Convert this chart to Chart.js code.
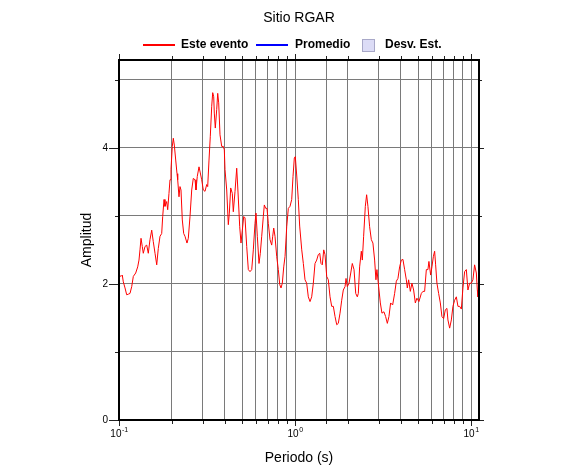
<!DOCTYPE html>
<html>
<head>
<meta charset="utf-8">
<title>Sitio RGAR</title>
<script src="https://cdn.jsdelivr.net/npm/chart.js@4.4.1/dist/chart.umd.min.js"></script>
<style>
  html, body { margin: 0; padding: 0; background: #fff; }
</style>
</head>
<body>
<canvas id="rgarChart" width="586" height="475"></canvas>
<script>
// Periodo (s) y amplitud
var periodos = [
  0.100, 0.1027, 0.1044, 0.1058, 0.1082, 0.1106, 0.1132, 0.1155, 0.1181, 0.1206,
  0.1244, 0.1277, 0.1299, 0.1316, 0.1334, 0.1356, 0.1374, 0.1405, 0.1437, 0.1467,
  0.1500, 0.1534, 0.1566, 0.1602, 0.1638, 0.1672, 0.1710, 0.1748, 0.1771, 0.1802,
  0.1825, 0.1866, 0.1891, 0.1923, 0.1949, 0.1974, 0.2008, 0.2035, 0.2062, 0.2100,
  0.2136, 0.2155, 0.2192, 0.2221, 0.2250, 0.2289, 0.2331, 0.2371, 0.2434, 0.2476,
  0.2532, 0.2589, 0.2643, 0.2703, 0.2738, 0.2785, 0.2848, 0.2897, 0.2950, 0.3013,
  0.3081, 0.3150, 0.3191, 0.3246, 0.3302, 0.3363, 0.3407, 0.3452, 0.3479, 0.3525,
  0.3590, 0.3638, 0.3685, 0.3749, 0.3833, 0.3914, 0.3966, 0.4002, 0.4092, 0.4179,
  0.4234, 0.4312, 0.4403, 0.4461, 0.4562, 0.4664, 0.4744, 0.4851, 0.4934, 0.5019,
  0.5112, 0.5199, 0.5316, 0.5429, 0.5551, 0.5676, 0.5796, 0.5926, 0.6004, 0.6107,
  0.6244, 0.6351, 0.6469, 0.6606, 0.6693, 0.6816, 0.6933, 0.7052, 0.7211, 0.7373,
  0.7470, 0.7569, 0.7698, 0.7872, 0.8038, 0.8187, 0.8327, 0.8470, 0.8627, 0.8775,
  0.8972, 0.9162, 0.9368, 0.9578, 0.9743, 0.9910, 1.004, 1.022, 1.044, 1.063,
  1.092, 1.115, 1.140, 1.165, 1.190, 1.217, 1.244, 1.271, 1.299, 1.328,
  1.356, 1.382, 1.405, 1.429, 1.456, 1.481, 1.514, 1.546, 1.581, 1.616,
  1.651, 1.688, 1.726, 1.762, 1.802, 1.842, 1.881, 1.924, 1.949, 1.982,
  2.027, 2.073, 2.116, 2.164, 2.213, 2.259, 2.289, 2.329, 2.381, 2.412,
  2.454, 2.509, 2.552, 2.596, 2.654, 2.714, 2.771, 2.834, 2.882, 2.920,
  2.986, 3.053, 3.118, 3.200, 3.272, 3.346, 3.417, 3.493, 3.586, 3.681,
  3.764, 3.844, 3.930, 4.018, 4.103, 4.196, 4.290, 4.346, 4.421, 4.520,
  4.616, 4.720, 4.826, 4.928, 5.059, 5.220, 5.330, 5.450, 5.573, 5.691,
  5.766, 5.896, 5.997, 6.108, 6.212, 6.294, 6.402, 6.546, 6.693, 6.835,
  6.989, 7.146, 7.297, 7.393, 7.560, 7.730, 7.893, 8.071, 8.252, 8.427,
  8.616, 8.810, 8.996, 9.199, 9.406, 9.604, 9.820, 10.04, 10.25, 10.48,
  10.72, 10.86, 10.95, 11.1
];
var esteEvento = [
  2.13, 2.11, 2.13, 2.03, 1.94, 1.84, 1.85, 1.86, 1.96, 2.11,
  2.16, 2.25, 2.35, 2.50, 2.67, 2.55, 2.45, 2.55, 2.57, 2.45,
  2.65, 2.79, 2.62, 2.45, 2.28, 2.52, 2.70, 2.74, 2.99, 3.24,
  3.14, 3.21, 3.09, 3.33, 3.53, 3.68, 4.02, 4.14, 4.04, 3.82,
  3.62, 3.53, 3.28, 3.43, 3.38, 2.94, 2.74, 2.70, 2.60, 2.67,
  2.99, 3.38, 3.55, 3.53, 3.38, 3.58, 3.72, 3.63, 3.53, 3.38,
  3.36, 3.46, 3.43, 3.82, 4.17, 4.61, 4.81, 4.75, 4.51, 4.29,
  4.56, 4.80, 4.66, 4.19, 4.02, 4.02, 3.97, 3.68, 3.38, 2.87,
  3.04, 3.41, 3.33, 3.06, 3.36, 3.70, 3.35, 2.84, 2.60, 2.79,
  2.99, 2.97, 2.55, 2.21, 2.18, 2.21, 2.50, 2.89, 3.04, 2.70,
  2.30, 2.45, 2.70, 2.99, 3.16, 3.11, 3.11, 2.89, 2.65, 2.57,
  2.70, 2.82, 2.70, 2.40, 2.21, 1.99, 1.94, 2.01, 2.25, 2.40,
  2.84, 3.11, 3.14, 3.24, 3.58, 3.85, 3.87, 3.60, 3.24, 2.85,
  2.50, 2.30, 2.06, 2.01, 1.81, 1.74, 1.81, 2.01, 2.30, 2.35,
  2.43, 2.45, 2.30, 2.28, 2.50, 2.43, 2.11, 2.06, 1.81, 1.67,
  1.67, 1.52, 1.40, 1.42, 1.57, 1.76, 1.91, 1.96, 2.08, 1.96,
  2.01, 2.16, 2.30, 2.21, 1.86, 1.81, 1.86, 2.25, 2.48, 2.35,
  2.70, 3.14, 3.31, 3.14, 2.84, 2.65, 2.60, 2.35, 2.06, 2.21,
  1.96, 1.72, 1.57, 1.59, 1.52, 1.42, 1.52, 1.72, 1.69, 1.86,
  2.04, 2.08, 2.25, 2.35, 2.36, 2.21, 2.06, 1.94, 2.06, 1.89,
  2.01, 1.91, 1.72, 1.79, 1.74, 1.86, 1.89, 1.89, 2.21, 2.21,
  2.33, 2.13, 2.25, 2.40, 2.48, 2.28, 2.01, 1.86, 1.72, 1.52,
  1.49, 1.62, 1.64, 1.47, 1.35, 1.47, 1.67, 1.76, 1.81, 1.67,
  1.67, 1.63, 1.94, 2.18, 2.21, 1.91, 2.01, 2.01, 2.06, 2.28,
  2.16, 1.91, 1.81, 1.85
];

var xMin = 0.1, xMax = 11.1;
var yMin = 0, yMax = 5.29;
var yEtiquetas = [0, 2, 4];
var xDecadas = [0.1, 1, 10];
var xExponentes = ['-1', '0', '1'];
var leyenda = ['Este evento', 'Promedio', 'Desv. Est.'];
var titulo = 'Sitio RGAR';

var fuente = '"Liberation Sans", Arial, Helvetica, sans-serif';
Chart.defaults.font.family = fuente;

function esDecada(v) {
  var l = Math.log10(v);
  return Math.abs(l - Math.round(l)) < 1e-6;
}

// marco, marcas, textos y leyenda al estilo GMT
var marcoPlugin = {
  id: 'marco',
  afterDraw: function (chart) {
    var c = chart.ctx, a = chart.chartArea;
    var sx = chart.scales.x, sy = chart.scales.y;
    c.save();

    // marcas de los ejes
    c.strokeStyle = '#222';
    c.lineWidth = 1;
    c.beginPath();
    sx.ticks.forEach(function (t) {
      if (t.value > 10.5) return;
      var px = Math.round(sx.getPixelForValue(t.value)) + 0.5;
      var mayor = esDecada(t.value);
      c.moveTo(px, a.bottom); c.lineTo(px, a.bottom + (mayor ? 6 : 4));
      c.moveTo(px, a.top); c.lineTo(px, a.top - (mayor ? 6 : 4));
    });
    for (var v = 0; v <= 5; v++) {
      var py = Math.round(sy.getPixelForValue(v)) + 0.5;
      var par = v % 2 === 0;
      c.moveTo(a.left, py); c.lineTo(a.left - (par ? 10 : 4), py);
      c.moveTo(a.right, py); c.lineTo(a.right + (par ? 5 : 3), py);
    }
    c.stroke();

    // marco grueso
    c.strokeStyle = '#000';
    c.lineWidth = 2;
    c.strokeRect(a.left, a.top, a.right - a.left, a.bottom - a.top);

    // etiquetas 10^n del eje x
    c.fillStyle = '#000';
    c.textBaseline = 'alphabetic';
    xDecadas.forEach(function (d, i) {
      var px = sx.getPixelForValue(d);
      c.font = '10px ' + fuente;
      var wb = c.measureText('10').width;
      c.font = '7px ' + fuente;
      var we = c.measureText(xExponentes[i]).width;
      var x0 = px - (wb + we) / 2;
      c.font = '10px ' + fuente;
      c.textAlign = 'left';
      c.fillText('10', x0, a.bottom + 17);
      c.font = '7px ' + fuente;
      c.fillText(xExponentes[i], x0 + wb + 0.5, a.bottom + 12);
    });

    // titulos
    c.textAlign = 'center';
    c.textBaseline = 'middle';
    c.font = '14px ' + fuente;
    var cx = (a.left + a.right) / 2;
    c.fillText(titulo, cx, 18);
    c.fillText('Periodo (s)', cx, 458);
    c.save();
    c.translate(87, 240);
    c.rotate(-Math.PI / 2);
    c.fillText('Amplitud', 0, 0);
    c.restore();

    // leyenda
    c.font = 'bold 12px ' + fuente;
    c.textAlign = 'left';
    c.lineWidth = 2;
    c.strokeStyle = '#ff0000';
    c.beginPath(); c.moveTo(143, 45); c.lineTo(175, 45); c.stroke();
    c.fillText(leyenda[0], 181, 45);
    c.strokeStyle = '#0000ff';
    c.beginPath(); c.moveTo(256, 45); c.lineTo(288, 45); c.stroke();
    c.fillText(leyenda[1], 295, 45);
    c.fillStyle = '#dcdcf6';
    c.fillRect(362, 39, 13, 13);
    c.lineWidth = 1;
    c.strokeStyle = '#a8a8c8';
    c.strokeRect(362.5, 39.5, 12, 12);
    c.fillStyle = '#000';
    c.fillText(leyenda[2], 385, 45);

    c.restore();
  }
};

var ctx = document.getElementById('rgarChart').getContext('2d');
var chart = new Chart(ctx, {
  type: 'line',
  data: {
    datasets: [{
      label: leyenda[0],
      data: periodos.map(function (p, i) { return { x: p, y: esteEvento[i] }; }),
      borderColor: '#ff0000',
      borderWidth: 1,
      pointRadius: 0,
      fill: false,
      tension: 0
    }]
  },
  options: {
    responsive: false,
    animation: false,
    layout: { padding: { top: 60, right: 107, bottom: 0, left: 0 } },
    plugins: {
      legend: { display: false },
      title: { display: false },
      tooltip: { enabled: false }
    },
    scales: {
      x: {
        type: 'logarithmic',
        min: xMin,
        max: xMax,
        border: { display: false },
        grid: { color: '#7a7a7a', lineWidth: 1, drawTicks: false },
        ticks: { display: false },
        afterFit: function (s) { s.height = 55; }
      },
      y: {
        type: 'linear',
        min: yMin,
        max: yMax,
        border: { display: false },
        grid: { color: '#7a7a7a', lineWidth: 1, drawTicks: false },
        ticks: {
          stepSize: 1,
          autoSkip: false,
          padding: 11,
          color: '#000',
          font: { size: 10 },
          callback: function (v) { return yEtiquetas.indexOf(v) >= 0 ? String(v) : ''; }
        },
        afterFit: function (s) { s.width = 119; }
      }
    }
  },
  plugins: [marcoPlugin]
});
</script>
</body>
</html>
